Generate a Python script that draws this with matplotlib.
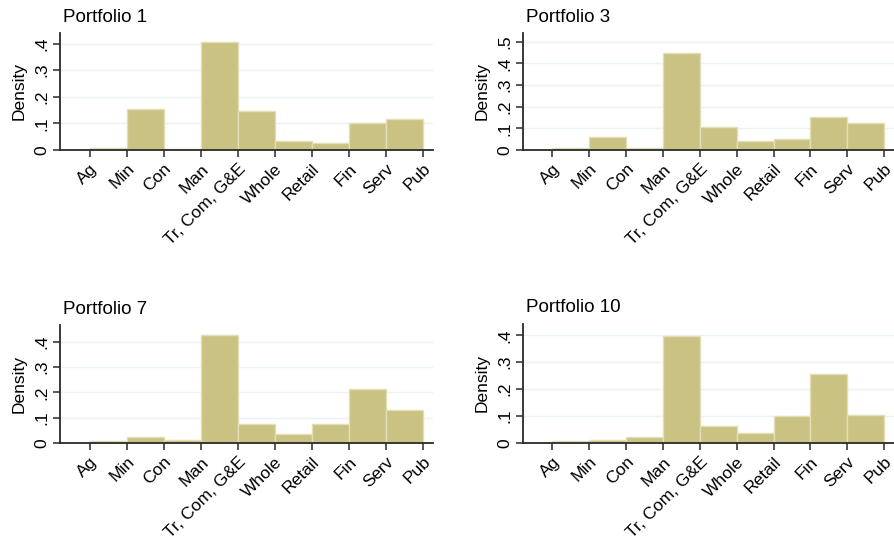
import numpy as np
import matplotlib.pyplot as plt

# Industry categories (bin edges on the x axis)
industries = ['Ag', 'Min', 'Con', 'Man', 'Tr, Com, G&E', 'Whole', 'Retail', 'Fin', 'Serv', 'Pub']

# Density per bin, one list per portfolio
port1 = [0.006, 0.154, 0.005, 0.407, 0.147, 0.035, 0.027, 0.102, 0.115]
port3 = [0.008, 0.058, 0.008, 0.446, 0.105, 0.043, 0.049, 0.154, 0.126]
port7 = [0.006, 0.024, 0.012, 0.426, 0.076, 0.035, 0.076, 0.213, 0.131]
port10 = [0.006, 0.011, 0.022, 0.396, 0.062, 0.037, 0.099, 0.256, 0.105]

titles = ['Portfolio 1', 'Portfolio 3', 'Portfolio 7', 'Portfolio 10']
series = [port1, port3, port7, port10]
yticks = [[0, 0.1, 0.2, 0.3, 0.4],
          [0, 0.1, 0.2, 0.3, 0.4, 0.5],
          [0, 0.1, 0.2, 0.3, 0.4],
          [0, 0.1, 0.2, 0.3, 0.4]]
ytop = [0.44, 0.54, 0.466, 0.442]

plt.rcParams['font.family'] = ['Liberation Sans', 'DejaVu Sans']

W, H = 894, 546
fig = plt.figure(figsize=(W / 100, H / 100), dpi=100)

# panel boxes in pixels: left, right, top, bottom
boxes = [(60, 433, 33, 150), (523, 894, 33, 150),
         (60, 433, 325, 443), (523, 894, 324, 443)]

edges = np.arange(1, len(industries) + 1)

for box, vals, title, yt, top in zip(boxes, series, titles, yticks, ytop):
    l, r, t, b = box
    ax = fig.add_axes([l / W, 1 - b / H, (r - l) / W, (b - t) / H])
    ax.bar(edges[:-1], vals, width=1.0, align='edge', color='#c9c283',
           edgecolor='#e2dfb6', linewidth=1.0, zorder=2)
    ax.set_xlim(0.2, 10.27)
    ax.set_ylim(0, top)
    ax.set_yticks(yt)
    ax.set_yticklabels(['0' if v == 0 else ('%.1f' % v)[1:] for v in yt],
                       rotation=90, va='center', fontsize=12.5)
    ax.set_xticks(edges)
    ax.set_xticklabels(industries, rotation=45, ha='right',
                       rotation_mode='anchor', fontsize=12.5)
    ax.grid(axis='y', color='#eaf2f3', linewidth=1.0, zorder=0)
    ax.set_axisbelow(True)
    for s in ['top', 'right']:
        ax.spines[s].set_visible(False)
    for s in ['left', 'bottom']:
        ax.spines[s].set_color('#2a2a2a')
        ax.spines[s].set_linewidth(1.3)
    ax.tick_params(direction='out', length=5, width=1.1, color='#2a2a2a', pad=3)
    ax.set_ylabel('Density', fontsize=12.5, labelpad=5)
    ax.text(0.008, 1 + 16 / (b - t), title, transform=ax.transAxes,
            fontsize=13.5, ha='left', va='center')

plt.savefig('out.png', dpi=100)
